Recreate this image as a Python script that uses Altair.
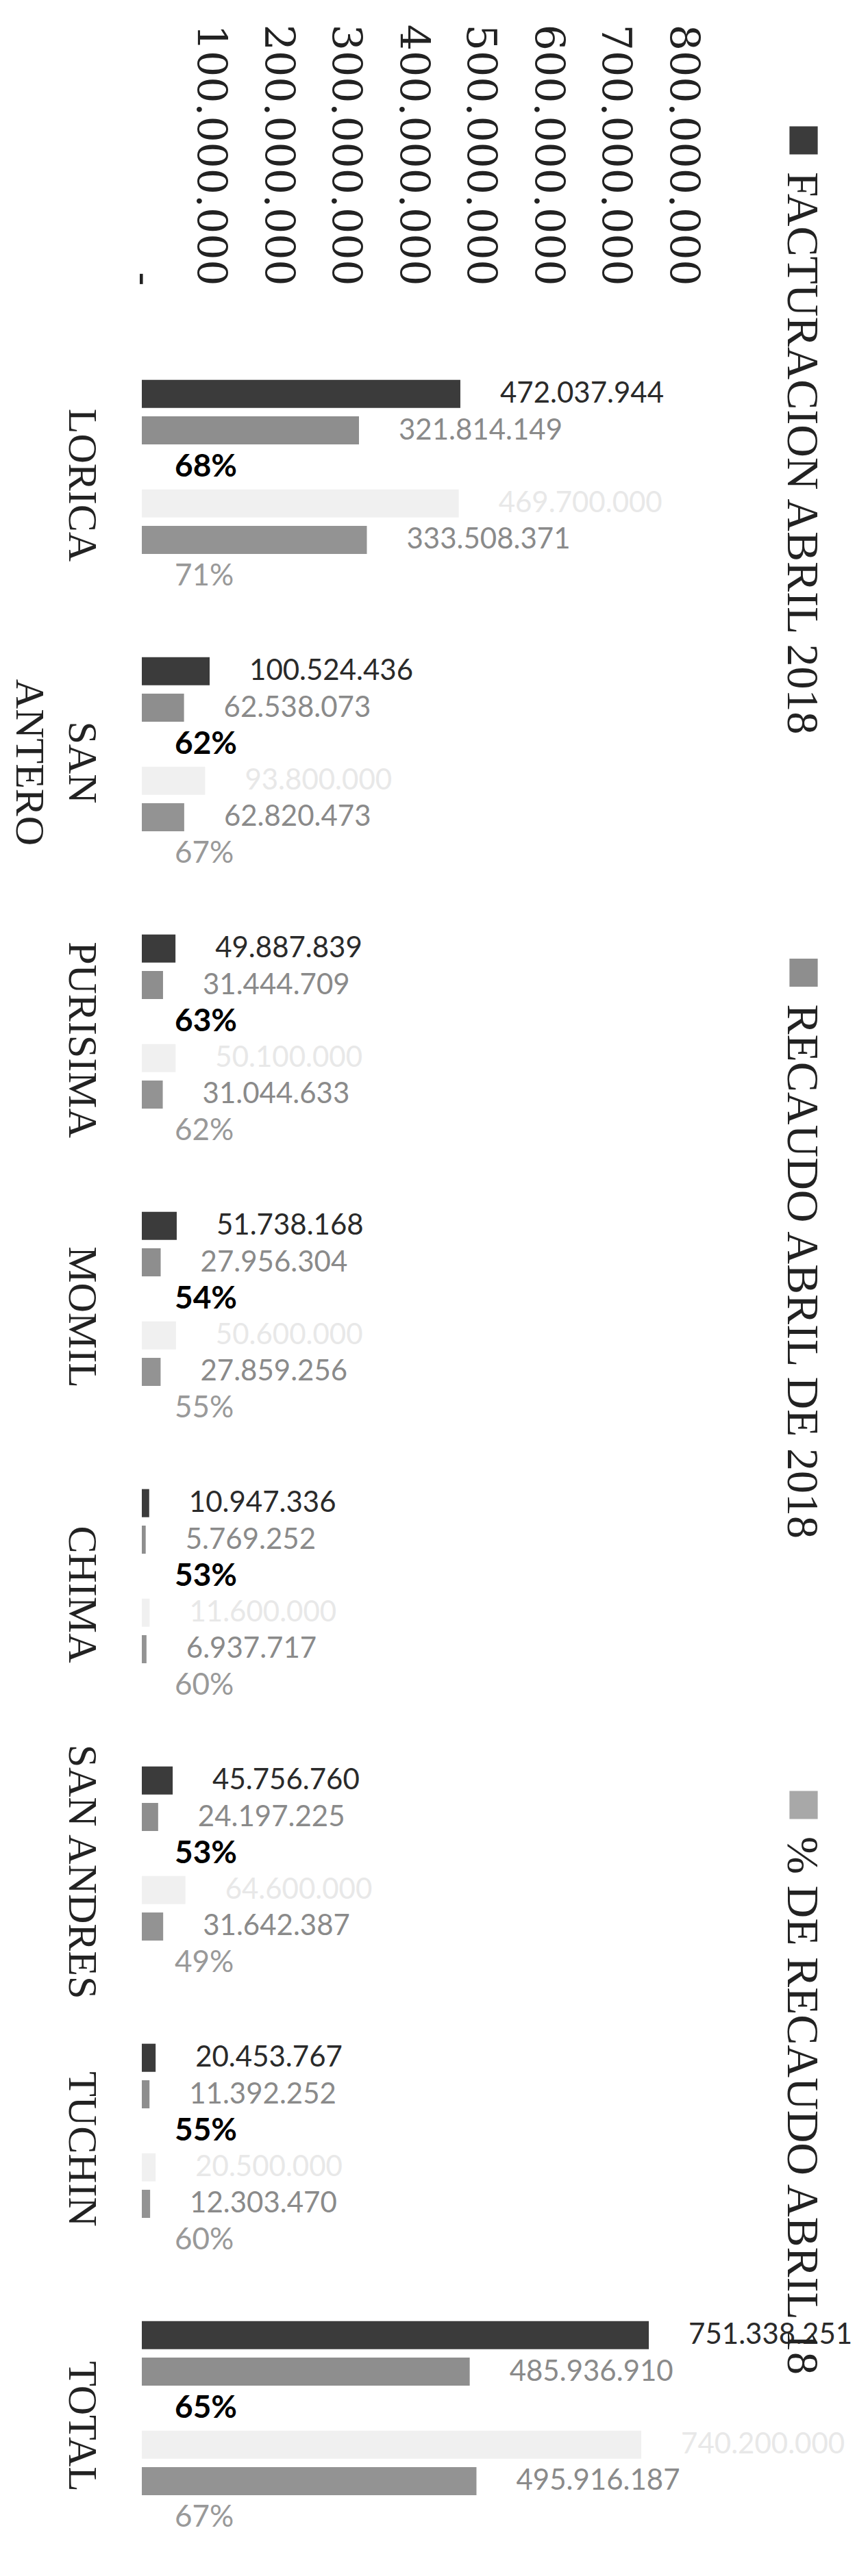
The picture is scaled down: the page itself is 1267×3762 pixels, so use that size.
import altair as alt
import pandas as pd

categories = ["LORICA", "SAN ANTERO", "PURISIMA", "MOMIL", "CHIMA", "SAN ANDRES", "TUCHIN", "TOTAL"]
series = [
    "FACTURACION ABRIL 2018",
    "RECAUDO ABRIL DE 2018",
    "% DE RECAUDO ABRIL 18",
    "FACTURACION ABRIL 2017",
    "RECAUDO ABRIL DE 2017",
    "% DE RECAUDO ABRIL 17",
]
legend_series = series[:3]

facturacion_2018 = [472037944, 100524436, 49887839, 51738168, 10947336, 45756760, 20453767, 751338251]
recaudo_2018 = [321814149, 62538073, 31444709, 27956304, 5769252, 24197225, 11392252, 485936910]
pct_recaudo_2018 = [68, 62, 63, 54, 53, 53, 55, 65]
facturacion_2017 = [469700000, 93800000, 50100000, 50600000, 11600000, 64600000, 20500000, 740200000]
recaudo_2017 = [333508371, 62820473, 31044633, 27859256, 6937717, 31642387, 12303470, 495916187]
pct_recaudo_2017 = [71, 67, 62, 55, 60, 49, 60, 67]

axis_ticks = [0, 100000000, 200000000, 300000000, 400000000, 500000000, 600000000, 700000000, 800000000]

bar_colors = ["#3b3b3b", "#8e8e8e", "#a8a8a8", "#f0f0f0", "#939393", "#bdbdbd"]
label_colors = ["#2a2a2a", "#8a8a8a", "#000000", "#e8e8e8", "#8a8a8a", "#999999"]
label_weights = ["normal", "normal", "bold", "normal", "normal", "normal"]
label_sizes = [42, 42, 46, 42, 42, 44]


def money(v):
    return f"{v:,}".replace(",", ".")


columns = [facturacion_2018, recaudo_2018, pct_recaudo_2018,
           facturacion_2017, recaudo_2017, pct_recaudo_2017]
rows = []
for s_idx, (name, vals) in enumerate(zip(series, columns)):
    is_pct = s_idx in (2, 5)
    for cat, v in zip(categories, vals):
        rows.append({
            "cat": cat,
            "series": name,
            "value": v / 100 if is_pct else v,
            "label": f"{v}%" if is_pct else money(v),
        })
df = pd.DataFrame(rows)

color_scale = alt.Scale(domain=series, range=bar_colors)

x_axis = alt.Axis(
    orient="top", values=axis_ticks, format=",d",
    labelExpr="datum.value == 0 ? '-' : join(split(datum.label, ','), '.')",
    labelAngle=90, labelAlign="right", labelBaseline="middle",
    labelFont="DejaVu Serif", labelFontSize=60, labelColor="#222222",
    labelPadding=89, labelLimit=1000, labelFlush=False, labelOverlap=False,
    ticks=False, tickSize=0, domain=False, grid=False, title=None,
)
y_axis = alt.Axis(
    orient="left", labelAngle=90, labelAlign="center", labelBaseline="top",
    labelPadding=60, labelFont="Liberation Serif", labelFontSize=60,
    labelColor="#222222", labelLineHeight=77, labelLimit=1000, labelOverlap=False,
    labelExpr="datum.value == 'SAN ANTERO' ? ['SAN', 'ANTERO'] : datum.label",
    ticks=False, domain=False, grid=False, title=None,
)
x_scale = alt.Scale(domain=[0, 800000000], nice=False, zero=True)
y_scale = alt.Scale(paddingInner=0.21, paddingOuter=0.105)
off_scale = alt.Scale(paddingInner=0.23, paddingOuter=0.115)


def enc_x():
    return alt.X("value:Q", scale=x_scale, axis=x_axis)


def enc_y():
    return alt.Y("cat:N", sort=categories, scale=y_scale, axis=y_axis)


def enc_off():
    return alt.YOffset("series:N", sort=series, scale=off_scale)


bars = alt.Chart(df).mark_bar().encode(
    x=enc_x(),
    y=enc_y(),
    yOffset=enc_off(),
    color=alt.Color("series:N", scale=color_scale, legend=None),
)

text_layers = []
for s_idx, name in enumerate(series):
    is_pct = s_idx in (2, 5)
    t = alt.Chart(df).transform_filter(
        alt.datum.series == name
    ).mark_text(
        align="left", baseline="middle", dx=48 if is_pct else 58,
        font="Lato", fontSize=label_sizes[s_idx], fontWeight=label_weights[s_idx],
        color=label_colors[s_idx],
    ).encode(
        x=enc_x(),
        y=enc_y(),
        yOffset=enc_off(),
        text="label:N",
    )
    text_layers.append(t)

main = alt.layer(bars, *text_layers)

legend_df = pd.DataFrame({"series": legend_series})
legend_y = alt.Y("series:N", sort=legend_series,
                 scale=alt.Scale(type="point", range=[-301, 2130], padding=0),
                 axis=None)
legend_sym = alt.Chart(legend_df).mark_square(size=1700, opacity=1).encode(
    x=alt.value(966),
    y=legend_y,
    color=alt.Color("series:N", scale=color_scale, legend=None),
)
legend_txt = alt.Chart(legend_df).mark_text(
    angle=90, align="left", baseline="alphabetic", dx=46,
    font="Liberation Serif", fontSize=66, color="#222222",
).encode(
    x=alt.value(943),
    y=legend_y,
    text="series:N",
)
legend = alt.layer(legend_sym, legend_txt)

chart = alt.layer(main, legend).resolve_scale(y="independent").properties(
    width=788,
    height=3240,
    padding={"left": 199, "top": 498, "right": 255, "bottom": 8},
    autosize=alt.AutoSizeParams(type="none"),
    background="white",
).configure_view(stroke=None)

chart.save("out.html", embed_options={"renderer": "svg", "actions": False})
